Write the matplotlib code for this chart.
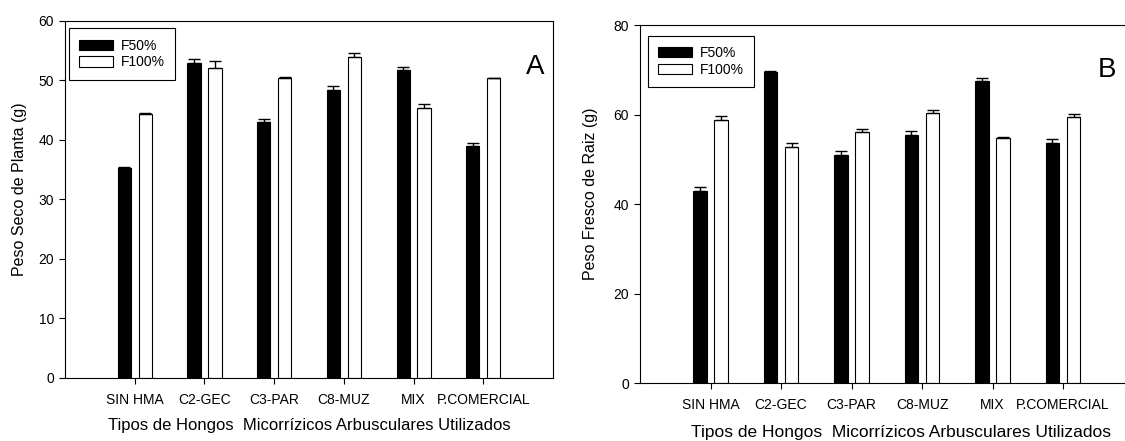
import matplotlib
matplotlib.use("Agg")
import matplotlib.pyplot as plt
import numpy as np

plt.rcParams['font.family'] = ['Liberation Sans', 'DejaVu Sans']

categories = ["SIN HMA", "C2-GEC", "C3-PAR", "C8-MUZ", "MIX", "P.COMERCIAL"]
series_names = ["F50%", "F100%"]

a_f50 = [35.3, 53.0, 43.0, 48.35, 51.7, 39.05]
a_f50_err = [0.1, 0.55, 0.45, 0.7, 0.55, 0.45]
a_f100 = [44.35, 52.05, 50.35, 54.0, 45.4, 50.35]
a_f100_err = [0.15, 1.25, 0.3, 0.7, 0.65, 0.07]

b_f50 = [43.0, 69.5, 51.0, 55.4, 67.4, 53.7]
b_f50_err = [0.7, 0.15, 0.8, 0.85, 0.7, 0.8]
b_f100 = [58.7, 52.7, 56.0, 60.4, 54.8, 59.45]
b_f100_err = [0.9, 0.9, 0.7, 0.55, 0.2, 0.75]

fig = plt.figure(figsize=(11.25, 4.41), dpi=100)
axA = fig.add_axes([0.0578, 0.1429, 0.4338, 0.8095])
axB = fig.add_axes([0.5689, 0.1315, 0.4387, 0.8118])

x = np.arange(1, len(categories) + 1)
w = 0.19
off = 0.15

def draw(ax, f50, e50, f100, e100, ymax, ystep, ylabel, letter, letter_pos, leg_anchor,
         xlabel_pad, xlabel_size):
    ax.bar(x - off, f50, w, color='black', edgecolor='black', linewidth=0.8, label=series_names[0],
           yerr=[np.zeros(len(f50)), e50], error_kw=dict(ecolor='black', elinewidth=1, capsize=4.5, capthick=1))
    ax.bar(x + off, f100, w, color='white', edgecolor='black', linewidth=0.8, label=series_names[1],
           yerr=[np.zeros(len(f100)), e100], error_kw=dict(ecolor='black', elinewidth=1, capsize=4.5, capthick=1))
    ax.set_xlim(0, 7)
    ax.set_ylim(0, ymax)
    ax.set_yticks(np.arange(0, ymax + 1, ystep))
    ax.set_xticks(x)
    ax.set_xticklabels(categories)
    ax.tick_params(direction='out', length=4, width=0.8, labelsize=10, pad=4)
    ax.tick_params(axis='x', pad=7)
    for s in ax.spines.values():
        s.set_linewidth(0.8)
    ax.set_ylabel(ylabel, fontsize=11.5)
    ax.set_xlabel("Tipos de Hongos  Micorrízicos Arbusculares Utilizados", fontsize=xlabel_size,
                  labelpad=xlabel_pad)
    ax.text(letter_pos[0], letter_pos[1], letter, transform=ax.transAxes, fontsize=20,
            ha='center', va='center')
    leg = ax.legend(loc='upper left', bbox_to_anchor=leg_anchor, fontsize=10, fancybox=False,
                    edgecolor='black', framealpha=1, handlelength=2.4, handleheight=0.75,
                    borderpad=0.75, labelspacing=0.2, handletextpad=0.6, borderaxespad=0)
    leg.get_frame().set_linewidth(0.8)

draw(axA, a_f50, a_f50_err, a_f100, a_f100_err, 60, 10, "Peso Seco de Planta (g)", "A",
     (0.963, 0.871), (0.008, 0.98), 8, 12)
draw(axB, b_f50, b_f50_err, b_f100, b_f100_err, 80, 20, "Peso Fresco de Raiz (g)", "B",
     (0.947, 0.874), (0.016, 0.97), 9.5, 12.5)

axA.yaxis.set_label_coords(-0.078, 0.528)
axB.yaxis.set_label_coords(-0.085, 0.528)
axB.xaxis.label.set_x(0.528)

fig.savefig("out.png", dpi=100)
